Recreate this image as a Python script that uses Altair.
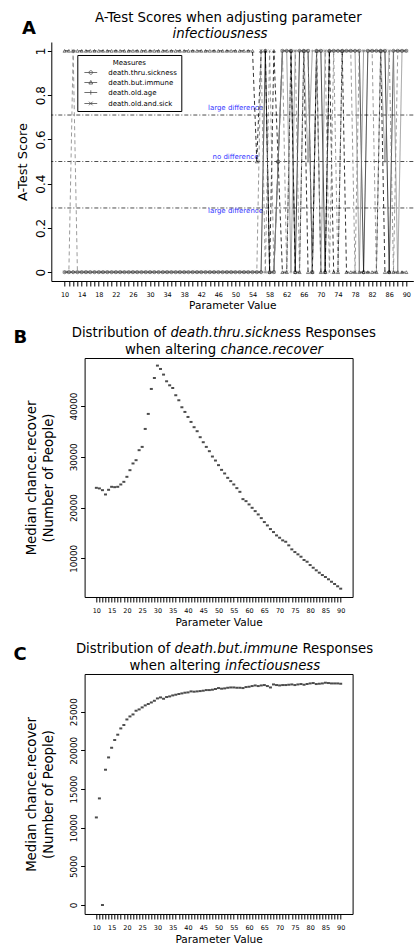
import altair as alt
import pandas as pd

FONT = "DejaVu Sans"

x_vals = list(range(10, 91))

measures = ["death.thru.sickness", "death.but.immune", "death.old.age", "death.old.and.sick"]

a_thru_sickness = [
    0, 0, 0, 0, 0, 0, 0, 0, 0, 0,
    0, 0, 0, 0, 0, 0, 0, 0, 0, 0,
    0, 0, 0, 0, 0, 0, 0, 0, 0, 0,
    0, 0, 0, 0, 0, 0, 0, 0, 0, 0,
    0, 0, 0, 0, 0, 0, 0, 1, 0, 0,
    0.5, 1, 1, 1, 0, 1, 1, 1, 0, 1,
    1, 0, 1, 1, 1, 1, 1, 1, 1, 1,
    0, 1, 1, 1, 1, 1, 0, 1, 1, 1,
    1]
a_but_immune = [
    1, 1, 1, 1, 1, 1, 1, 1, 1, 1,
    1, 1, 1, 1, 1, 1, 1, 1, 1, 1,
    1, 1, 1, 1, 1, 1, 1, 1, 1, 1,
    1, 1, 1, 1, 1, 1, 1, 1, 1, 1,
    1, 1, 1, 1, 1, 0.5, 1, 1, 0, 1,
    0.5, 0, 0, 1, 0, 0, 1, 0, 0, 1,
    0, 0, 1, 0, 0, 1, 0, 0, 0, 0,
    0, 0, 0, 0, 1, 0, 0, 0, 0, 0,
    0]
a_old_age = [
    0, 0, 0, 0, 0, 0, 0, 0, 0, 0,
    0, 0, 0, 0, 0, 0, 0, 0, 0, 0,
    0, 0, 0, 0, 0, 0, 0, 0, 0, 0,
    0, 0, 0, 0, 0, 0, 0, 0, 0, 0,
    0, 0, 0, 0, 0, 0, 0, 0, 0, 0,
    0.5, 1, 1, 0, 1, 1, 1, 0.5, 1, 1,
    0, 1, 1, 1, 1, 1, 1, 1, 1, 0,
    1, 1, 1, 1, 1, 0.5, 1, 1, 0, 1,
    1]
a_old_and_sick = [
    0, 0, 1, 0, 0, 0, 0, 0, 0, 0,
    0, 0, 0, 0, 0, 0, 0, 0, 0, 0,
    0, 0, 0, 0, 0, 0, 0, 0, 0, 0,
    0, 0, 0, 0, 0, 0, 0, 0, 0, 0,
    0, 0, 0, 0, 0, 0, 1, 0, 1, 0,
    0.5, 1, 0, 1, 1, 0, 1, 1, 0, 1,
    1, 1, 0, 1, 0, 1, 1, 1, 0, 1,
    1, 1, 1, 0, 1, 1, 1, 0, 1, 1,
    1]

ref_levels = [0.71, 0.5, 0.29]
ref_label_x = [50, 50, 50]
ref_label_y = [0.74, 0.52, 0.275]
ref_labels = ["large difference", "no difference", "large difference"]

b_median = [
    23900, 23780, 23440, 22590, 23510, 24100, 24030, 24100, 24560, 25080,
    26070, 27380, 28700, 29350, 31320, 31970, 35510, 38470, 43390, 45550,
    47990, 47330, 46220, 44900, 44110, 43580, 42150, 41160, 39780, 38860,
    37870, 36890, 35850, 35060, 33880, 32890, 31970, 31120, 30070, 29280,
    28370, 27440, 26730, 25870, 25220, 24560, 23840, 23110, 21670, 21280,
    20630, 19960, 19310, 18650, 17930, 17150, 16490, 15770, 15180, 14520,
    14060, 13540, 13270, 12560, 11770, 11240, 10790, 10320, 9670, 9330,
    8680, 8150, 7640, 7170, 6710, 6320, 5870, 5390, 4940, 4490,
    4020]
c_median = [
    11330, 13790, 0, 17500, 19090, 20340, 21340, 22030, 22840, 23280,
    24000, 24390, 24650, 25130, 25300, 25560, 25820, 26000, 26200, 26420,
    26720, 26850, 26680, 26900, 26980, 27110, 27200, 27290, 27370, 27460,
    27500, 27630, 27590, 27630, 27670, 27720, 27800, 27800, 27850, 27940,
    28060, 27980, 28020, 28100, 28140, 28140, 28100, 28100, 28060, 28190,
    28230, 28320, 28400, 28320, 28400, 28450, 28320, 28140, 28530, 28450,
    28400, 28450, 28450, 28490, 28530, 28450, 28530, 28580, 28490, 28580,
    28660, 28710, 28580, 28620, 28660, 28750, 28710, 28660, 28660, 28660,
    28620]

a_y_ticks = [0, 0.2, 0.4, 0.6, 0.8, 1]
b_y_ticks = [10000, 20000, 30000, 40000]
c_y_ticks = [0, 5000, 10000, 15000, 20000, 25000]

# panel geometry (plot areas): A starts at the common origin, B/C boxes are inset
BOX_INSET = 33.3
BC_GROUP_W = 301.3


def txt(text, x, y, size=13.3, style="normal", weight="normal", align="left"):
    return alt.Chart(pd.DataFrame({"t": [text]})).mark_text(
        align=align, baseline="alphabetic", font=FONT, fontSize=size,
        fontStyle=style, fontWeight=weight, color="black"
    ).encode(x=alt.value(x), y=alt.value(y), text="t:N")


# ---------------- Panel A ----------------
rows = []
for m, vals in zip(measures, [a_thru_sickness, a_but_immune, a_old_age, a_old_and_sick]):
    for xv, v in zip(x_vals, vals):
        rows.append({"x": xv, "score": v, "measure": m})
dfA = pd.DataFrame(rows)

xA = alt.X("x:Q", scale=alt.Scale(domain=[6.886, 91.64], nice=False, zero=False),
           axis=alt.Axis(values=x_vals, labelExpr="(datum.value - 10) % 4 == 0 ? datum.label : ''",
                         tickSize=5, labelFontSize=6.5, labelPadding=5, title="Parameter Value",
                         titleFontSize=10.6, titlePadding=3, grid=False, labelOverlap=False,
                         labelFlush=False))
yA = alt.Y("score:Q", scale=alt.Scale(domain=[-0.04, 1.04], nice=False, zero=False),
           axis=alt.Axis(values=a_y_ticks, format="~g", labelAngle=270, labelFontSize=12,
                         tickSize=4, labelPadding=0, title="A-Test Score", titleFontSize=13,
                         titlePadding=5, grid=False, labelOverlap=False, labelFlush=False))

col_scale = alt.Scale(domain=measures, range=["black", "black", "#808080", "#808080"])
dash_scale = alt.Scale(domain=measures, range=[[1, 0], [4, 3], [1, 0], [4, 3]])
shape_scale = alt.Scale(domain=measures, range=[
    "circle", "triangle-up", "M-1,0L1,0M0,-1L0,1", "M-1,-1L1,1M-1,1L1,-1"])
legend_shape_scale = alt.Scale(domain=measures, range=[
    "M-3.2,0L3.2,0M-0.9,0A0.9,0.9,0,1,0,0.9,0A0.9,0.9,0,1,0,-0.9,0",
    "M-3.2,0L3.2,0M0,-1L0.95,0.75L-0.95,0.75Z",
    "M-3.2,0L3.2,0M0,-1.1L0,1.1",
    "M-3.2,0L3.2,0M-0.9,-0.9L0.9,0.9M-0.9,0.9L0.9,-0.9"])

rules = alt.Chart(pd.DataFrame({"score": ref_levels})).mark_rule(
    color="black", strokeWidth=0.7, strokeDash=[4, 2, 1, 2]
).encode(y=yA)

ref_text = alt.Chart(pd.DataFrame({"x": ref_label_x, "score": ref_label_y, "label": ref_labels})).mark_text(
    font=FONT, fontSize=7, color="#3535ff"
).encode(x=xA, y=yA, text="label:N")

lines = alt.Chart(dfA).mark_line(strokeWidth=0.8).encode(
    x=xA, y=yA,
    color=alt.Color("measure:N", scale=col_scale, legend=None),
    strokeDash=alt.StrokeDash("measure:N", scale=dash_scale, legend=None),
)
points = alt.Chart(dfA).mark_point(filled=False, size=10, strokeWidth=0.7).encode(
    x=xA, y=yA,
    color=alt.Color("measure:N", scale=col_scale, legend=None),
    shape=alt.Shape("measure:N", scale=shape_scale, legend=None),
)
legend_layer = alt.Chart(dfA).mark_point(filled=False, size=0, color="black", strokeWidth=0.8).encode(
    x=xA, y=yA,
    shape=alt.Shape("measure:N", scale=legend_shape_scale, legend=alt.Legend(
        title="Measures", orient="none", legendX=26, legendY=13,
        titleFont=FONT, titleFontSize=7, titleFontWeight="normal", titleAnchor="middle",
        titleAlign="center", titlePadding=3, titleColor="black",
        labelFont=FONT, labelFontSize=7, labelColor="black", labelOffset=14,
        symbolSize=16, symbolStrokeWidth=0.8, symbolStrokeColor="black",
        symbolFillColor="transparent", symbolOffset=6, rowPadding=2,
        strokeColor="black", fillColor="white", padding=4)),
)

A_titles = [
    txt("A-Test Scores when adjusting parameter", 177, -20.5, align="center"),
    txt("infectiousness", 168.7, -4.5, style="italic", align="center"),
    txt("A", -29.3, -7.7, size=18, weight="bold"),
]

panelA = alt.layer(rules, ref_text, lines, points, legend_layer, *A_titles).resolve_scale(
    shape="independent").properties(width=362, height=239)


# ---------------- Panels B and C ----------------
xBC_scale = alt.Scale(domain=[6.15, 93.9], range=[BOX_INSET, BC_GROUP_W], nice=False, zero=False)
xBC_axis = alt.Axis(values=x_vals, labelExpr="datum.value % 5 == 0 ? datum.label : ''",
                    tickSize=5, labelFontSize=6.5, labelPadding=6, title="Parameter Value",
                    titleFontSize=10.6, titlePadding=3, grid=False, domain=True,
                    labelOverlap=False, labelFlush=False)
ytitle = ["Median chance.recover", "(Number of People)"]


def dist_panel(values, y_domain, y_ticks, titles, height):
    df = pd.DataFrame({"x": x_vals, "median": values})
    y_scale = alt.Scale(domain=y_domain, nice=False, zero=False)
    marks = alt.Chart(df).mark_tick(orient="horizontal", size=3, thickness=2, color="black").encode(
        x=alt.X("x:Q", scale=xBC_scale, axis=xBC_axis),
        y=alt.Y("median:Q", scale=y_scale,
                axis=alt.Axis(values=y_ticks, format="d", labelAngle=270, labelFontSize=8.8,
                              tickSize=4, labelPadding=2.5, title=ytitle, titleFontSize=13.3,
                              titleLineHeight=17, titlePadding=14, grid=False, domain=True,
                              offset=-BOX_INSET, labelOverlap=False, labelFlush=False)),
    )
    frame = alt.Chart(df).mark_tick(opacity=0).encode(
        x=alt.X("x:Q", scale=xBC_scale,
                axis=alt.Axis(orient="top", ticks=False, labels=False, title=None, grid=False, domain=True)),
        y=alt.Y("median:Q", scale=y_scale,
                axis=alt.Axis(orient="right", ticks=False, labels=False, title=None, grid=False, domain=True)),
    )
    return alt.layer(marks, frame, *titles).resolve_axis(x="independent", y="independent").properties(
        width=BC_GROUP_W, height=height)


B_titles = [
    txt("Distribution of", BOX_INSET + 81.6, -20.6, align="right"),
    txt("death.thru.sicknes", BOX_INSET + 85.8, -20.6, style="italic"),
    txt("s Responses", BOX_INSET + 209.4, -20.6),
    txt("when altering", BOX_INSET + 131.6, -4, align="right"),
    txt("chance.recover", BOX_INSET + 135.9, -4, style="italic"),
    txt("B", BOX_INSET - 71, -15, size=18, weight="bold"),
]
C_titles = [
    txt("Distribution of", BOX_INSET + 85.8, -20.6, align="right"),
    txt("death.but.immune", BOX_INSET + 90.0, -20.6, style="italic"),
    txt("Responses", BOX_INSET + 217.8, -20.6),
    txt("when altering", BOX_INSET + 136.2, -4, align="right"),
    txt("infectiousness", BOX_INSET + 140.5, -4, style="italic"),
    txt("C", BOX_INSET - 71, -14, size=18, weight="bold"),
]

panelB = dist_panel(b_median, [2380, 49490], b_y_ticks, B_titles, 239)
panelC = dist_panel(c_median, [-1160, 29880], c_y_ticks, C_titles, 240)

chart = alt.vconcat(panelA, panelB, panelC, spacing=77, bounds="flush").properties(
    padding={"left": 13.3, "top": 10, "right": 0, "bottom": 0}
).configure_view(stroke=None).configure_axis(
    labelFont=FONT, titleFont=FONT, labelColor="black", titleColor="black",
    domainColor="black", tickColor="black", domainWidth=1, tickWidth=1,
    titleFontWeight="normal"
)

chart.save("out.html", embed_options={"renderer": "svg", "actions": False})
